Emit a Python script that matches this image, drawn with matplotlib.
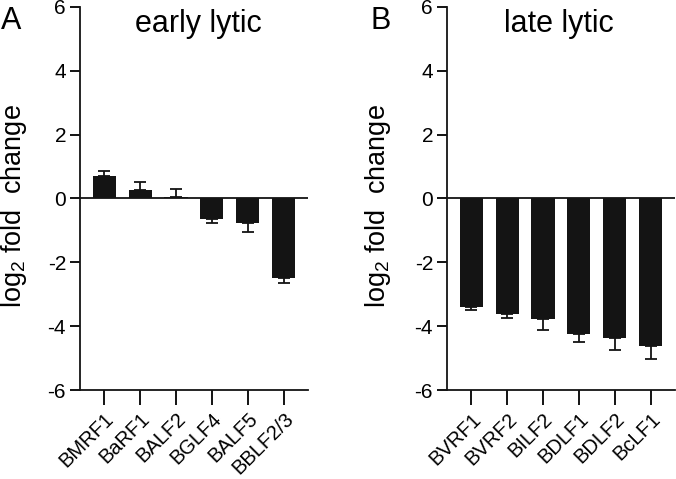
import matplotlib
matplotlib.use('Agg')
import matplotlib.pyplot as plt
import numpy as np

plt.rcParams['font.family'] = ['Liberation Sans', 'DejaVu Sans']
plt.rcParams['mathtext.fontset'] = 'custom'
plt.rcParams['mathtext.rm'] = 'Liberation Sans'
plt.rcParams['axes.unicode_minus'] = False

# Data
early_genes = ['BMRF1', 'BaRF1', 'BALF2', 'BGLF4', 'BALF5', 'BBLF2/3']
early_vals = [0.69, 0.27, 0.06, -0.65, -0.78, -2.50]
early_err = [0.16, 0.25, 0.24, 0.12, 0.28, 0.14]

late_genes = ['BVRF1', 'BVRF2', 'BILF2', 'BDLF1', 'BDLF2', 'BcLF1']
late_vals = [-3.39, -3.63, -3.78, -4.24, -4.37, -4.63]
late_err = [0.11, 0.12, 0.34, 0.27, 0.39, 0.39]

BAR_COLOR = '#141414'


def draw_panel(ax, genes, vals, errs, title, title_x, label_x):
    x = np.arange(len(genes))
    vals = np.array(vals)
    errs = np.array(errs)
    ax.bar(x, vals, width=0.64, color=BAR_COLOR, zorder=2)
    # one-sided error bars, pointing away from zero
    lower = np.where(vals < 0, errs, 0)
    upper = np.where(vals >= 0, errs, 0)
    ax.errorbar(x, vals, yerr=[lower, upper], fmt='none', ecolor=BAR_COLOR,
                elinewidth=1.3, capsize=4, capthick=1.3, zorder=3)
    ax.axhline(0, color=BAR_COLOR, lw=1.3, zorder=1)

    ax.set_ylim(-6, 6)
    ax.set_xlim(-0.67, len(genes) - 0.33)
    ax.set_yticks([-6, -4, -2, 0, 2, 4, 6])
    ax.set_xticks(x)
    ax.set_xticklabels(genes, rotation=45, ha='right', rotation_mode='anchor')
    ax.tick_params(axis='y', length=7, width=1.3, labelsize=15, pad=3)
    ax.tick_params(axis='x', length=11, width=1.3, labelsize=14.5, pad=3)

    for s in ['top', 'right']:
        ax.spines[s].set_visible(False)
    for s in ['left', 'bottom']:
        ax.spines[s].set_linewidth(1.3)
        ax.spines[s].set_color(BAR_COLOR)

    ax.set_ylabel(r'log$_\mathregular{2}$ fold  change', fontsize=19.5)
    ax.yaxis.set_label_coords(label_x, 0.48)
    ax.text(title_x, 0.995, title, transform=ax.transAxes, ha='center',
            va='top', fontsize=22)
    return ax


fig = plt.figure(figsize=(6.76, 4.79), dpi=100)
ax1 = fig.add_axes([0.1183, 0.1858, 0.3373, 0.7996])
ax2 = fig.add_axes([0.6612, 0.1858, 0.3373, 0.7996])

draw_panel(ax1, early_genes, early_vals, early_err, 'early lytic', 0.52, -0.222)
draw_panel(ax2, late_genes, late_vals, late_err, 'late lytic', 0.49, -0.237)

fig.text(0.002, 0.94, 'A', fontsize=22, ha='left', va='baseline')
fig.text(0.548, 0.94, 'B', fontsize=22, ha='left', va='baseline')

fig.savefig('out.png', dpi=100)
